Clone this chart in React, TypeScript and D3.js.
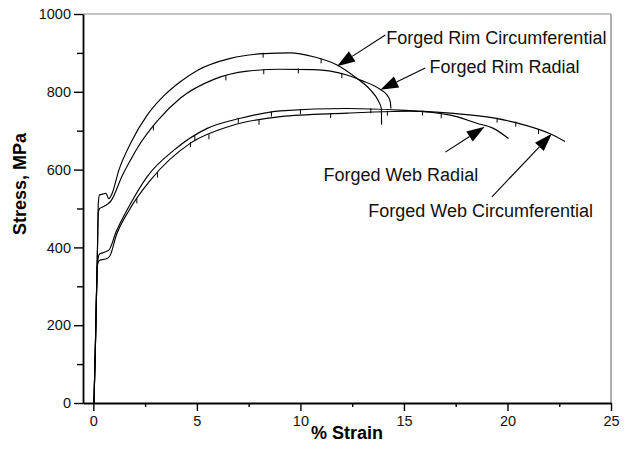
import React from "react";
import * as d3 from "d3";

// strain (%) / stress (MPa)
const rimCircStrain = [0.03, 0.1, 0.2, 0.24, 0.3, 0.45, 0.6, 0.75, 0.9, 1.24, 1.8, 2.6, 3.41, 4.2, 5.02, 6.62, 8.23, 9.5, 10.64, 11.77, 12.74, 13.38, 13.78, 13.91, 13.92];
const rimCircStress = [0, 150, 400, 514, 535, 537, 539, 525, 538, 600, 668, 740, 790, 826, 855, 886, 898, 900, 890, 869, 834, 805, 775, 757, 715];

const rimRadStrain = [0.03, 0.1, 0.2, 0.24, 0.3, 0.5, 0.7, 0.83, 1.4, 1.8, 2.12, 3.09, 4.21, 5.82, 7.43, 9.04, 10.64, 12.25, 12.9, 13.86, 14.18, 14.34, 14.37];
const rimRadStress = [0, 150, 400, 490, 500, 505, 512, 518, 585, 625, 655, 725, 784, 832, 853, 858, 857, 843, 830, 806, 792, 775, 757];

const webCircStrain = [0.03, 0.1, 0.2, 0.3, 0.45, 0.59, 0.75, 1.1, 1.72, 2.6, 3.89, 5.5, 7.1, 9.04, 12.25, 14.82, 17.24, 19.32, 20.45, 22.06, 22.78];
const webCircStress = [0, 150, 360, 383, 386, 389, 393, 440, 505, 582, 650, 706, 732, 751, 757, 753, 745, 733, 720, 692, 672];

const webRadStrain = [0.03, 0.1, 0.2, 0.3, 0.6, 0.8, 1.1, 1.72, 2.76, 4.69, 6.62, 9.04, 12.25, 13.54, 15.3, 17.24, 18.52, 19.32, 20.05];
const webRadStress = [0, 150, 355, 367, 370, 378, 430, 495, 573, 668, 712, 736, 745, 748, 750, 740, 719, 706, 680];

// small serration marks seen on the recorded curves (strain positions)
const rimCircSpikes = [8.2, 11.0];
const rimRadSpikes = [2.9, 6.4, 8.23, 9.9, 12.0];
const webCircSpikes = [4.9, 7.0, 8.6, 10.0, 13.4, 15.9, 19.5, 20.4, 21.5];
const webRadSpikes = [2.1, 3.1, 4.69, 5.58, 8.0, 11.46, 14.2, 16.8];

const series = [
  { x: rimCircStrain, y: rimCircStress, spikes: rimCircSpikes },
  { x: rimRadStrain, y: rimRadStress, spikes: rimRadSpikes },
  { x: webCircStrain, y: webCircStress, spikes: webCircSpikes },
  { x: webRadStrain, y: webRadStress, spikes: webRadSpikes },
];

// annotations: label, text anchor point, arrow tail, arrow tip (data units)
const labels = ["Forged Rim Circumferential", "Forged Rim Radial", "Forged Web Radial", "Forged Web Circumferential"];
const labelAt = [[14.15, 938], [16.23, 864], [11.11, 586], [13.28, 494]];
const arrowFrom = [[14.1, 946], [16.03, 861], [17.0, 645], [19.25, 530]];
const arrowTo = [[11.77, 866], [13.86, 805], [18.9, 710], [22.14, 692]];

const xTicks = [0, 5, 10, 15, 20, 25];
const xMinor = [2.5, 7.5, 12.5, 17.5, 22.5];
const yTicks = [0, 200, 400, 600, 800, 1000];
const yMinor = [100, 300, 500, 700, 900];

const FONT = '"Liberation Sans", Arial, sans-serif';

const App: React.FC = () => {
  const svgRef = React.useRef<SVGSVGElement | null>(null);

  React.useEffect(() => {
    if (!svgRef.current) return;
    const svg = d3.select(svgRef.current);
    svg.selectAll("*").remove();

    const width = 627;
    const height = 455;
    const left = 83;
    const right = 611;
    const top = 14;
    const bottom = 403;

    svg.attr("width", width).attr("height", height).style("font-family", FONT);
    svg.append("rect").attr("width", width).attr("height", height).attr("fill", "#fff");

    const x = d3.scaleLinear().domain([-0.5, 25]).range([left, right]);
    const y = d3.scaleLinear().domain([0, 1000]).range([bottom, top]);

    // frame: grey top/right, black axes
    svg.append("line").attr("x1", left).attr("x2", right).attr("y1", top).attr("y2", top)
      .attr("stroke", "#8a8a8a").attr("stroke-width", 1.2);
    svg.append("line").attr("x1", right).attr("x2", right).attr("y1", top).attr("y2", bottom)
      .attr("stroke", "#9a9a9a").attr("stroke-width", 1.6);

    const xAxis = svg.append("g").attr("transform", `translate(0,${bottom})`)
      .call(d3.axisBottom(x).tickValues(xTicks).tickSize(8).tickSizeOuter(0).tickPadding(5).tickFormat((d) => `${d}`));
    svg.append("g").attr("transform", `translate(0,${bottom})`)
      .call(d3.axisBottom(x).tickValues(xMinor).tickSize(4).tickSizeOuter(0).tickFormat(() => ""))
      .select(".domain").remove();
    const yAxis = svg.append("g").attr("transform", `translate(${left},0)`)
      .call(d3.axisLeft(y).tickValues(yTicks).tickSize(9).tickSizeOuter(0).tickPadding(3).tickFormat((d) => `${d}`));
    svg.append("g").attr("transform", `translate(${left},0)`)
      .call(d3.axisLeft(y).tickValues(yMinor).tickSize(6).tickSizeOuter(0).tickFormat(() => ""))
      .select(".domain").remove();

    svg.selectAll(".domain").attr("stroke", "#000").attr("stroke-width", 1.8);
    svg.selectAll(".tick line").attr("stroke", "#000").attr("stroke-width", 1.4);
    [xAxis, yAxis].forEach((a) =>
      a.selectAll("text").attr("font-size", 14.5).attr("font-family", FONT).attr("fill", "#111")
    );

    const line = d3.line<[number, number]>().curve(d3.curveMonotoneX);
    series.forEach((s) => {
      const pts = s.x.map((v, i) => [x(v), y(s.y[i])] as [number, number]);
      svg.append("path")
        .attr("d", line(pts))
        .attr("fill", "none")
        .attr("stroke", "#000")
        .attr("stroke-width", 1.15);
      // serrations
      s.spikes.forEach((sx) => {
        const j = d3.bisectLeft(s.x, sx);
        const t = (sx - s.x[j - 1]) / (s.x[j] - s.x[j - 1]);
        const sy = s.y[j - 1] + t * (s.y[j] - s.y[j - 1]);
        svg.append("line")
          .attr("x1", x(sx)).attr("x2", x(sx))
          .attr("y1", y(sy) - 1).attr("y2", y(sy) + 4)
          .attr("stroke", "#000").attr("stroke-width", 1);
      });
    });

    // annotations
    labels.forEach((t, i) => {
      const x1 = x(arrowFrom[i][0]);
      const y1 = y(arrowFrom[i][1]);
      const x2 = x(arrowTo[i][0]);
      const y2 = y(arrowTo[i][1]);
      const ang = Math.atan2(y2 - y1, x2 - x1);
      const len = 18;
      const hw = 6;
      const bx = x2 - len * Math.cos(ang);
      const by = y2 - len * Math.sin(ang);
      svg.append("line").attr("x1", x1).attr("y1", y1).attr("x2", bx).attr("y2", by)
        .attr("stroke", "#000").attr("stroke-width", 1.1);
      const pts = [
        [x2, y2],
        [bx + hw * Math.sin(ang), by - hw * Math.cos(ang)],
        [bx - hw * Math.sin(ang), by + hw * Math.cos(ang)],
      ];
      svg.append("polygon").attr("points", pts.map((p) => p.join(",")).join(" ")).attr("fill", "#000");
      svg.append("text")
        .attr("x", x(labelAt[i][0]))
        .attr("y", y(labelAt[i][1]))
        .attr("dy", "0.35em")
        .attr("font-size", 18)
        .attr("fill", "#111")
        .text(t);
    });

    svg.append("text")
      .attr("x", (left + right) / 2)
      .attr("y", 433)
      .attr("dy", "0.35em")
      .attr("text-anchor", "middle")
      .attr("font-size", 18)
      .attr("font-weight", "bold")
      .text("% Strain");
    svg.append("text")
      .attr("transform", `translate(20,184) rotate(-90)`)
      .attr("dy", "0.35em")
      .attr("text-anchor", "middle")
      .attr("font-size", 18)
      .attr("font-weight", "bold")
      .text("Stress, MPa");
  }, []);

  return <svg ref={svgRef} style={{ position: "absolute", left: 0, top: 0 }}></svg>;
};

export default App;
